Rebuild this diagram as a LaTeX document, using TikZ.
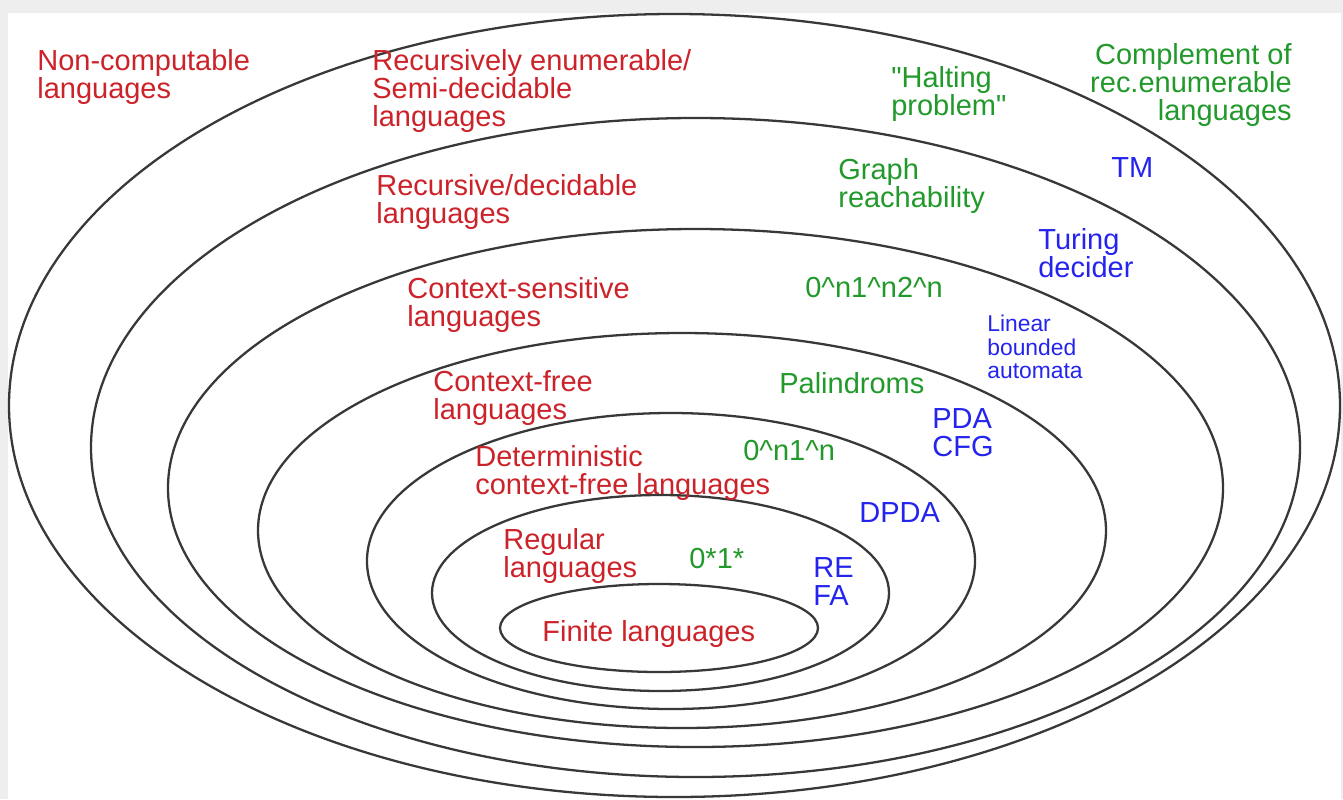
\documentclass[tikz,border=0pt]{standalone}
\usepackage{fontspec}
\setmainfont{Liberation Sans}
\usepackage{xcolor}
\usepackage{tikz}

\definecolor{langred}{HTML}{CC2229}
\definecolor{exgreen}{HTML}{22992B}
\definecolor{machblue}{HTML}{2424EE}
\definecolor{frame}{HTML}{EEEEEE}

% straight double quote, past the TeX mapping
\newcommand{\sq}{\XeTeXglyph\XeTeXcharglyph"22\relax}

\tikzset{
	class/.style = {draw = black!78, line width = 1.3pt},
	txt/.style = {inner sep = 0, anchor = north west, align = left, font = \fontsize{16.5}{15.9}\selectfont},
	lang/.style = {txt, text = langred},
	example/.style = {txt, text = exgreen},
	machine/.style = {txt, text = machblue}
}

\begin{document}
\begin{tikzpicture}[x = 0.02cm, y = 0.02cm]
		\fill[frame] (0,0) rectangle (1343,-799);
		\fill[white] (8,-13) rectangle (1341,-799);
		\useasboundingbox (0,0) rectangle (1343,-799);
		
		% nested classes, outermost first
		\begin{scope}[class]
			\draw (674.5,-405.5) ellipse [x radius = 665.5, y radius = 391.5];
			\draw (695.5,-447.5) ellipse [x radius = 604.5, y radius = 329.5];
			\draw (695.5,-488) ellipse [x radius = 527.5, y radius = 259];
			\draw (682,-530.5) ellipse [x radius = 424, y radius = 197.5];
			\draw (671,-561) ellipse [x radius = 304, y radius = 148];
			\draw (660.5,-593) ellipse [x radius = 228.5, y radius = 98];
			\draw (659,-628) ellipse [x radius = 159, y radius = 44];
		\end{scope}
		
		\node[lang] (noncomp) at (37,-49) {Non-computable\\languages};
		\node[lang] (recenum) at (372,-49) {Recursively enumerable/\\Semi-decidable\\languages};
		\node[example] (halting) at (891,-66) {\sq Halting\\problem\sq};
		\node[example, anchor = north east, align = right] (complement) at (1292,-43) {Complement of\\rec.enumerable\\languages};
		\node[machine] (tm) at (1111,-157) {TM};
		
		\node[lang] (recursive) at (376,-174) {Recursive/decidable\\languages};
		\node[example] (graph) at (838,-158) {Graph\\reachability};
		\node[machine] (turing) at (1038,-228) {Turing\\decider};
		
		\node[lang] (cs) at (407,-277) {Context-sensitive\\languages};
		\node[example] (anbncn) at (805,-277) {0\textasciicircum n1\textasciicircum n2\textasciicircum n};
		\node[machine, font = \fontsize{13}{13.3}\selectfont] (lba) at (987,-315) {Linear\\bounded\\automata};
		
		\node[lang] (cf) at (433,-370) {Context-free\\languages};
		\node[example] (palin) at (779,-372) {Palindroms};
		\node[machine] (pda) at (932,-408) {PDA\\CFG};
		
		\node[lang] (dcf) at (475,-445) {Deterministic\\context-free languages};
		\node[example] (anbn) at (743,-440) {0\textasciicircum n1\textasciicircum n};
		\node[machine] (dpda) at (859,-502) {DPDA};
		
		\node[lang] (regular) at (503,-528) {Regular\\languages};
		\node[example] (zostar) at (689,-548) {0*1*};
		\node[machine] (refa) at (813,-557) {RE\\FA};
		
		\node[lang] (finite) at (542,-620) {Finite languages};
	\end{tikzpicture}
\end{document}
